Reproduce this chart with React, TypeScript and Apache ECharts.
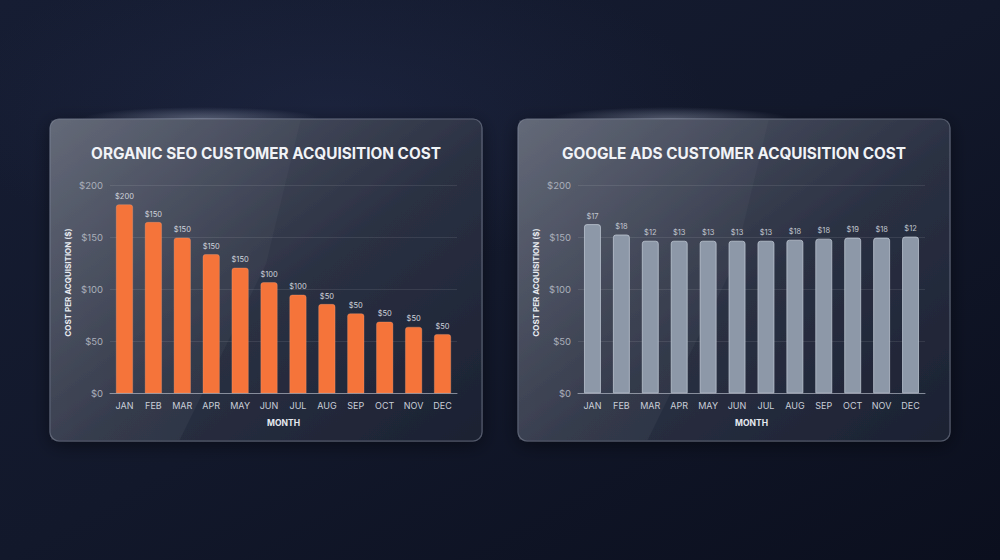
import React, { useEffect, useRef } from "react";
import * as echarts from "echarts";

const months = ["JAN", "FEB", "MAR", "APR", "MAY", "JUN", "JUL", "AUG", "SEP", "OCT", "NOV", "DEC"];
const seoValues = [182, 165, 150, 134, 121, 107, 95, 86, 77, 69, 64, 57];
const seoLabels = ["$200", "$150", "$150", "$150", "$150", "$100", "$100", "$50", "$50", "$50", "$50", "$50"];
const adsValues = [163, 153, 147, 147, 147, 147, 147, 148, 149, 150, 150, 151];
const adsLabels = ["$17", "$18", "$12", "$13", "$13", "$13", "$13", "$18", "$18", "$19", "$18", "$12"];
const seoTitle = "ORGANIC SEO CUSTOMER ACQUISITION COST";
const adsTitle = "GOOGLE ADS CUSTOMER ACQUISITION COST";
const yAxisName = "COST PER ACQUISITION ($)";
const xAxisName = "MONTH";

const FONT = "Inter, 'Noto Sans', sans-serif";

function card(x: number, w: number) {
  const y = 119;
  const h = 322;
  return [
    {
      type: "ellipse",
      z: -9,
      shape: { cx: x + w * 0.35, cy: y, rx: 120, ry: 12 },
      style: {
        fill: new echarts.graphic.RadialGradient(0.5, 0.5, 0.5, [
          { offset: 0, color: "rgba(200,210,235,0.4)" },
          { offset: 1, color: "rgba(200,210,235,0)" },
        ]),
      },
      silent: true,
    },
    {
      type: "rect",
      z: -8,
      shape: { x, y, width: w, height: h, r: 9 },
      style: {
        fill: new echarts.graphic.LinearGradient(0, 0, 1, 1, [
          { offset: 0, color: "#5a6070" },
          { offset: 0.35, color: "#3b4152" },
          { offset: 0.55, color: "#2a3042" },
          { offset: 1, color: "#1b2132" },
        ]),
        stroke: "rgba(190,198,215,0.35)",
        lineWidth: 1.2,
        shadowBlur: 18,
        shadowColor: "rgba(0,0,0,0.45)",
        shadowOffsetY: 4,
      },
      silent: true,
    },
    {
      type: "polygon",
      z: -7,
      shape: {
        points: [
          [x + 1, y + 1],
          [x + w * 0.58, y + 1],
          [x + w * 0.5, y + h * 0.45],
          [x + w * 0.3, y + h - 1],
          [x + 1, y + h - 1],
        ],
      },
      style: {
        fill: new echarts.graphic.LinearGradient(0, 0, 1, 0, [
          { offset: 0, color: "rgba(255,255,255,0.06)" },
          { offset: 1, color: "rgba(255,255,255,0.025)" },
        ]),
      },
      silent: true,
    },
    {
      type: "line",
      z: -6,
      shape: { x1: x + w * 0.15, y1: y, x2: x + w * 0.55, y2: y },
      style: {
        stroke: new echarts.graphic.LinearGradient(0, 0, 1, 0, [
          { offset: 0, color: "rgba(255,255,255,0)" },
          { offset: 0.5, color: "rgba(240,245,255,0.95)" },
          { offset: 1, color: "rgba(255,255,255,0)" },
        ]),
        lineWidth: 1.5,
      },
      silent: true,
    },
  ];
}

function makeAxes(gridIndex: number) {
  const yAxis = {
    type: "value",
    gridIndex,
    min: 0,
    max: 200,
    interval: 50,
    z: 3,
    name: yAxisName,
    nameLocation: "middle",
    nameGap: 38,
    nameTextStyle: { color: "#e6e9ef", fontSize: 8, fontWeight: "bold", fontFamily: FONT, padding: [0, 0, 0, 14] },
    axisLine: { show: false },
    axisTick: { show: false },
    axisLabel: {
      color: "#a9afba",
      fontSize: 9.5,
      fontFamily: FONT,
      margin: 7,
      formatter: (v: number) => "$" + v,
    },
    splitLine: { lineStyle: { color: "rgba(255,255,255,0.09)", width: 1 } },
  };
  const xAxis = {
    type: "category",
    gridIndex,
    data: months,
    z: 3,
    name: xAxisName,
    nameLocation: "middle",
    nameGap: 25,
    nameTextStyle: { color: "#e6e9ef", fontSize: 8.5, fontWeight: "bold", fontFamily: FONT },
    axisLine: { lineStyle: { color: "rgba(200,206,218,0.55)", width: 1.2 } },
    axisTick: { show: false },
    axisLabel: { color: "#c9ced8", fontSize: 9, fontFamily: FONT, margin: 8 },
  };
  return { xAxis, yAxis };
}

export default function App() {
  const ref = useRef<HTMLDivElement>(null);

  useEffect(() => {
    if (!ref.current) return;
    const chart = echarts.init(ref.current, null, { renderer: "svg" });
    const a0 = makeAxes(0);
    const a1 = makeAxes(1);
    chart.setOption({
      animation: false,
      backgroundColor: "transparent",
      graphic: [
        {
          type: "rect",
          z: -20,
          shape: { x: 0, y: 0, width: 1000, height: 560 },
          style: {
            fill: new echarts.graphic.LinearGradient(0, 0, 1, 1, [
              { offset: 0, color: "#161d33" },
              { offset: 0.5, color: "#12182b" },
              { offset: 1, color: "#0b0f1e" },
            ]),
          },
          silent: true,
        },
        {
          type: "ellipse",
          z: -19,
          shape: { cx: 330, cy: 110, rx: 380, ry: 160 },
          style: {
            fill: new echarts.graphic.RadialGradient(0.5, 0.5, 0.5, [
              { offset: 0, color: "rgba(40,50,85,0.35)" },
              { offset: 1, color: "rgba(40,50,85,0)" },
            ]),
          },
          silent: true,
        },
        ...card(50, 432),
        ...card(518, 432),
        {
          type: "text",
          z: 5,
          x: 266,
          y: 153,
          style: {
            text: seoTitle,
            align: "center",
            verticalAlign: "middle",
            fill: "#f1f3f7",
            font: "bold 15.3px " + FONT,
          },
        },
        {
          type: "text",
          z: 5,
          x: 734,
          y: 153,
          style: {
            text: adsTitle,
            align: "center",
            verticalAlign: "middle",
            fill: "#f1f3f7",
            font: "bold 15.3px " + FONT,
          },
        },
      ],
      grid: [
        { left: 110, right: 543, top: 185.7, bottom: 166.7 },
        { left: 578, right: 75, top: 185.7, bottom: 166.7 },
      ],
      xAxis: [a0.xAxis, a1.xAxis],
      yAxis: [a0.yAxis, a1.yAxis],
      series: [
        {
          type: "bar",
          xAxisIndex: 0,
          yAxisIndex: 0,
          z: 4,
          data: seoValues,
          barWidth: 17,
          itemStyle: {
            color: "#f5743a",
            borderRadius: [2.5, 2.5, 0, 0],
            borderColor: "rgba(255,170,130,0.5)",
            borderWidth: 0.6,
          },
          label: {
            show: true,
            position: "top",
            distance: 4,
            color: "#cfd3db",
            fontSize: 7.5,
            fontFamily: FONT,
            formatter: (p: any) => seoLabels[p.dataIndex],
          },
        },
        {
          type: "bar",
          xAxisIndex: 1,
          yAxisIndex: 1,
          z: 4,
          data: adsValues,
          barWidth: 17,
          itemStyle: {
            color: "#8d98a8",
            borderRadius: [2.5, 2.5, 0, 0],
            borderColor: "rgba(200,208,220,0.7)",
            borderWidth: 1,
          },
          label: {
            show: true,
            position: "top",
            distance: 4,
            color: "#c2c7d0",
            fontSize: 7.5,
            fontFamily: FONT,
            formatter: (p: any) => adsLabels[p.dataIndex],
          },
        },
      ],
    });
    return () => chart.dispose();
  }, []);

  return (
    <div
      ref={ref}
      style={{ position: "absolute", left: 0, top: 0, width: 1000, height: 560 }}
    />
  );
}
